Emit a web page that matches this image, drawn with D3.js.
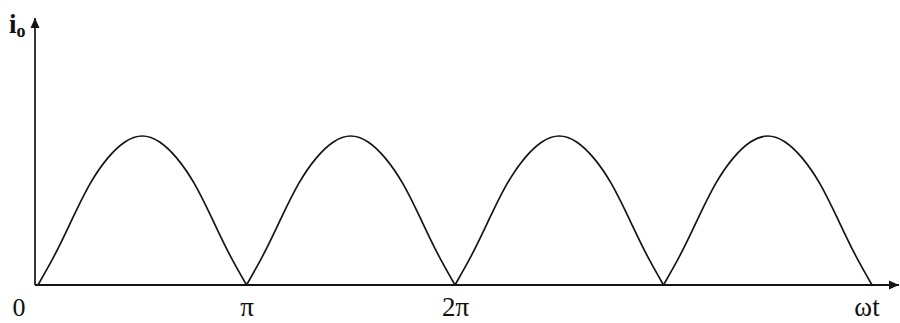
<!DOCTYPE html>
<html>
<head>
<meta charset="utf-8">
<script src="https://cdn.jsdelivr.net/npm/d3@7"></script>
<style>
  html, body { margin: 0; padding: 0; background: #fff; }
  svg { display: block; }
  text { font-family: "Liberation Serif", "DejaVu Serif", serif; fill: #111; }
</style>
</head>
<body>
<svg id="chart" width="900" height="323"></svg>
<script>
// Output current of a full-wave rectifier, sampled every π/12 over four half-cycles.
const humpSamples = [
  [0, 0.21, 0.45, 0.68, 0.85, 0.96, 1.0, 0.96, 0.85, 0.68, 0.45, 0.21, 0],
  [0, 0.21, 0.45, 0.68, 0.85, 0.96, 1.0, 0.96, 0.85, 0.68, 0.45, 0.21, 0],
  [0, 0.21, 0.45, 0.68, 0.85, 0.96, 1.0, 0.96, 0.85, 0.68, 0.45, 0.21, 0],
  [0, 0.21, 0.45, 0.68, 0.85, 0.96, 1.0, 0.96, 0.85, 0.68, 0.45, 0.21, 0]
];
const stepsPerHump = 12;          // samples per half-cycle (π)
const tickValues = [1, 2];        // ωt in multiples of π
const tickLabels = ["π", "2π"];
const originLabel = "0";
const xAxisTitle = "ωt";
const yAxisTitle = "i";
const yAxisSub = "o";

const svg = d3.select("#chart");
const ink = "#151515";

const x = d3.scaleLinear().domain([0, 4]).range([38, 872]);
const y = d3.scaleLinear().domain([0, 1]).range([285, 136]);

const x0 = 35, yBase = 285;

// arrowheads
const defs = svg.append("defs");
defs.append("marker")
  .attr("id", "arrow")
  .attr("viewBox", "0 0 10 10")
  .attr("refX", 10).attr("refY", 5)
  .attr("markerWidth", 10).attr("markerHeight", 10)
  .attr("markerUnits", "userSpaceOnUse")
  .attr("orient", "auto")
  .append("path")
  .attr("d", "M0,0.5 L10,5 L0,9.5 Z")
  .attr("fill", ink);

// axes
svg.append("line")
  .attr("x1", x0).attr("y1", yBase)
  .attr("x2", 899).attr("y2", yBase)
  .attr("stroke", ink).attr("stroke-width", 1.8)
  .attr("marker-end", "url(#arrow)");
svg.append("line")
  .attr("x1", x0).attr("y1", yBase)
  .attr("x2", x0).attr("y2", 18)
  .attr("stroke", ink).attr("stroke-width", 1.7)
  .attr("marker-end", "url(#arrow)");

// rectified waveform, one arch per half-cycle
const line = d3.line()
  .x(d => x(d.t))
  .y(d => y(d.v))
  .curve(d3.curveNatural);

humpSamples.forEach((vals, h) => {
  const pts = vals.map((v, k) => ({ t: h + k / stepsPerHump, v }));
  svg.append("path")
    .datum(pts)
    .attr("d", line)
    .attr("fill", "none")
    .attr("stroke", ink)
    .attr("stroke-width", 1.7)
    .attr("stroke-linejoin", "round");
});

// tick labels along ωt
const xAxis = d3.axisBottom(x)
  .tickValues(tickValues)
  .tickSize(0)
  .tickPadding(0)
  .tickFormat((d, i) => tickLabels[i]);
const gx = svg.append("g")
  .attr("transform", `translate(0,${yBase})`)
  .call(xAxis);
gx.select(".domain").remove();
gx.selectAll("text")
  .attr("y", 31).attr("dy", 0)
  .attr("fill", ink)
  .style("font-family", "'Liberation Serif', serif")
  .style("font-size", "27px");

svg.append("text")
  .attr("x", 19).attr("y", 316)
  .attr("text-anchor", "middle")
  .style("font-size", "26px")
  .text(originLabel);

svg.append("text")
  .attr("x", 867).attr("y", 316)
  .attr("text-anchor", "middle")
  .style("font-size", "27px")
  .text(xAxisTitle);

// i_o label
const yl = svg.append("text")
  .attr("x", 9).attr("y", 33)
  .style("font-size", "27px")
  .style("font-weight", "bold");
yl.append("tspan").text(yAxisTitle);
yl.append("tspan")
  .attr("dy", 4)
  .style("font-size", "18px")
  .style("font-weight", "bold")
  .text(yAxisSub);
</script>
</body>
</html>
